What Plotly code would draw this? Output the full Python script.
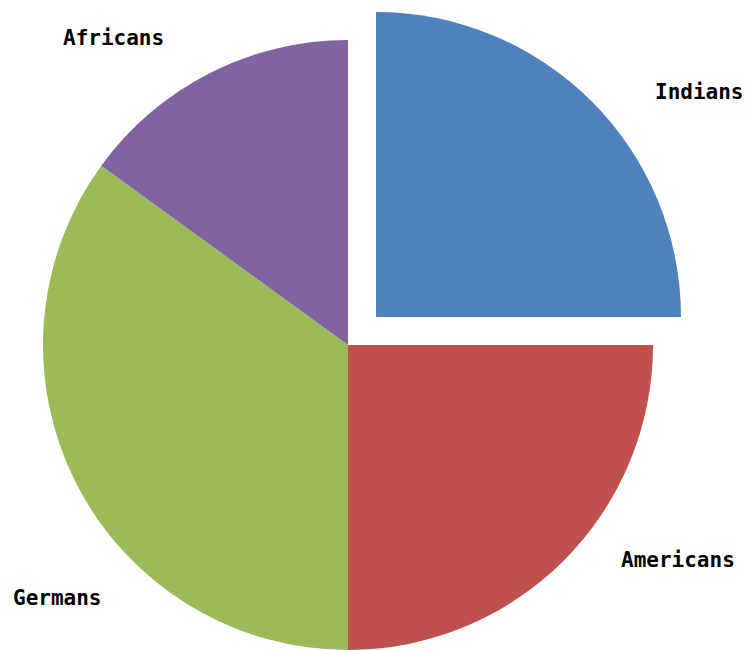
import plotly.graph_objects as go

# Share of each group (percent)
groups = ["Indians", "Americans", "Germans", "Africans"]
shares = [25, 25, 35, 15]
colors = ["#4F81BD", "#C0504D", "#9BBB59", "#8064A2"]
exploded = "Indians"

W, H = 750, 650
R = 305
cx, cy = 348, 345          # pie centre in pixels (from top-left)
off = 28                   # offset of the exploded slice along its bisector


def domain(center_x, center_y, r):
    return dict(
        x=[(center_x - r) / W, (center_x + r) / W],
        y=[1 - (center_y + r) / H, 1 - (center_y - r) / H],
    )


clear = "rgba(0,0,0,0)"
base_colors = [clear if g == exploded else c for g, c in zip(groups, colors)]
pulled_colors = [c if g == exploded else clear for g, c in zip(groups, colors)]

common = dict(
    labels=groups,
    values=shares,
    sort=False,
    direction="clockwise",
    rotation=0,
    textinfo="none",
    hoverinfo="label+percent",
    showlegend=False,
)

fig = go.Figure()
fig.add_trace(go.Pie(
    **common,
    marker=dict(colors=base_colors, line=dict(width=0)),
    domain=domain(cx, cy, R),
))
fig.add_trace(go.Pie(
    **common,
    marker=dict(colors=pulled_colors, line=dict(width=0)),
    domain=domain(cx + off, cy - off, R),
))

# Category labels around the pie
label_pos = {
    "Indians": (699.5, 92),
    "Americans": (678, 559.5),
    "Germans": (57.5, 597.5),
    "Africans": (113.5, 38),
}
for g in groups:
    px, py = label_pos[g]
    fig.add_annotation(
        x=px / W, y=1 - py / H, xref="paper", yref="paper",
        text=f"<b>{g}</b>", showarrow=False,
        xanchor="center", yanchor="middle",
        font=dict(family="DejaVu Sans Mono", size=21, color="#000000"),
    )

fig.update_layout(
    width=W, height=H,
    margin=dict(l=0, r=0, t=0, b=0),
    paper_bgcolor="white",
    plot_bgcolor="white",
)

fig.write_html("out.html")
